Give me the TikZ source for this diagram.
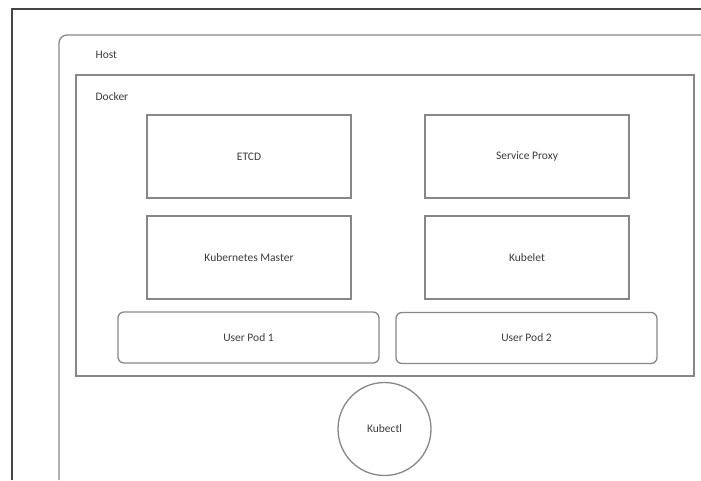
\documentclass[tikz,border=0pt]{standalone}
\usepackage{fontspec}
\setmainfont{Carlito}
\definecolor{linegray}{RGB}{135,135,135}
\definecolor{textgray}{RGB}{60,60,60}
\definecolor{framegray}{RGB}{70,70,70}
\begin{document}
\begin{tikzpicture}[x=1pt,y=-1pt,line width=1.3pt,font=\fontsize{11.5}{13}\selectfont,text=textgray,
  part/.style={draw=linegray,minimum width=204pt,minimum height=83pt,inner sep=0pt},
  pod/.style={draw=linegray,rounded corners=6pt,minimum width=261pt,minimum height=51pt,inner sep=0pt},
  tag/.style={anchor=west,inner sep=0pt}]
\useasboundingbox (0,0) rectangle (701,480);
% frames, running off the page to the right and bottom
\coordinate (F) at (12,9);\coordinate (H) at (59,35);
\draw[framegray] (F|-0,480) -- (F) -- (F-|701,0);
\draw[linegray,rounded corners=8pt] (H|-0,480) -- (H) -- (H-|701,0);
\draw[linegray] (76,75) rectangle (694,376);
\node[tag] (host) at (95,55) {Host};
\node[tag] (docker) at (95,97) {Docker};
% components
\node[part] (etcd) at (249,156.5) {ETCD};
\node[part] (proxy) at (527,156.5) {Service Proxy};
\node[part] (master) at (249,257.5) {Kubernetes Master};
\node[part] (kubelet) at (527,257.5) {Kubelet};
\node[pod] (pod1) at (248.5,337.5) {User Pod 1};
\node[pod] (pod2) at (526.5,338) {User Pod 2};
\node[draw=linegray,circle,minimum size=93pt,inner sep=0pt] (kubectl) at (384.5,429) {Kubectl};
\end{tikzpicture}
\end{document}
